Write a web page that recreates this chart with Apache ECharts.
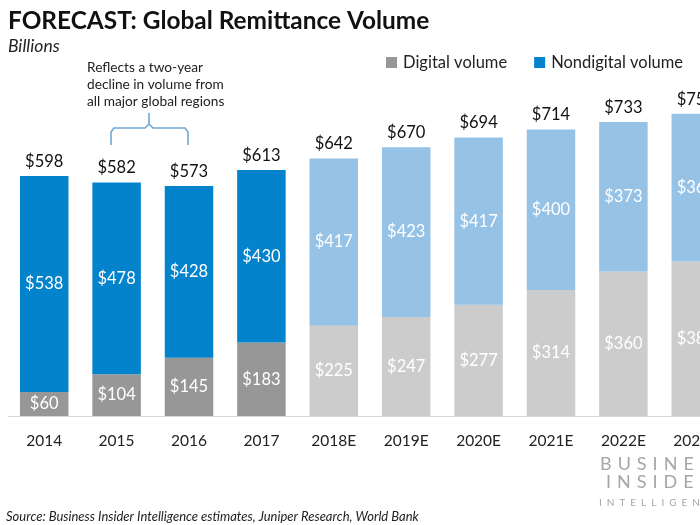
<!DOCTYPE html>
<html>
<head>
<meta charset="utf-8">
<script src="https://cdn.jsdelivr.net/npm/echarts@6/dist/echarts.min.js"></script>
<style>
html,body{margin:0;padding:0;width:700px;height:525px;overflow:hidden;background:#fff;}
#chart{width:760px;height:525px;}
</style>
</head>
<body>
<div id="chart"></div>
<script>
const categories = ['2014','2015','2016','2017','2018E','2019E','2020E','2021E','2022E','2023E'];
const digital    = [60, 104, 145, 183, 225, 247, 277, 314, 360, 385];
const nondigital = [538, 478, 428, 430, 417, 423, 417, 400, 373, 368];
const totals     = [598, 582, 573, 613, 642, 670, 694, 714, 733, 753];
const forecastStart = 4;

const FONT = 'Lato, "Open Sans", sans-serif';
const digitalColors = categories.map((c, i) => i < forecastStart ? '#979797' : '#cccccc');
const nondigitalColors = categories.map((c, i) => i < forecastStart ? '#0283cc' : '#96c2e6');
const spaced = (s, sep) => s.split('').join(sep);

const chart = echarts.init(document.getElementById('chart'), null, {renderer: 'canvas'});
chart.setOption({
  animation: false,
  textStyle: {fontFamily: FONT},
  title: [
    {text: 'FORECAST: Global Remittance Volume', left: 8, top: 9, padding: 0,
     textStyle: {fontFamily: FONT, fontSize: 24.4, fontWeight: 'bold', color: '#111'}},
    {text: 'Billions', left: 8, top: 37, padding: 0,
     textStyle: {fontFamily: FONT, fontSize: 17.5, fontStyle: 'italic', fontWeight: 'normal', color: '#222'}},
    {text: 'Source: Business Insider Intelligence estimates, Juniper Research, World Bank', left: 6, top: 510, padding: 0,
     textStyle: {fontFamily: FONT, fontSize: 13, fontStyle: 'italic', fontWeight: 'normal', color: '#222'}}
  ],
  legend: {
    left: 381, top: 49, itemWidth: 11, itemHeight: 11, itemGap: 27,
    icon: 'rect',
    textStyle: {fontFamily: FONT, fontSize: 16.5, color: '#222', padding: [0, 0, 0, 1]},
    data: [
      {name: 'Digital volume', itemStyle: {color: '#979797'}},
      {name: 'Nondigital volume', itemStyle: {color: '#0283cc'}}
    ]
  },
  grid: {left: 8, width: 724, top: 95, bottom: 109, containLabel: false},
  xAxis: {
    type: 'category', data: categories,
    axisLine: {show: true, lineStyle: {color: '#d9d9d9', width: 1}},
    axisTick: {show: false},
    axisLabel: {fontFamily: FONT, fontSize: 15.5, color: '#222', margin: 17}
  },
  yAxis: {type: 'value', min: 0, max: 800, show: false, splitLine: {show: false}},
  series: [
    {
      name: 'Digital volume', type: 'bar', stack: 'total', barWidth: '67%',
      data: digital.map((v, i) => ({value: v, itemStyle: {color: digitalColors[i]}})),
      label: {show: true, position: 'inside', formatter: p => '$' + p.value,
              fontFamily: FONT, fontSize: 16.5, color: '#fff'}
    },
    {
      name: 'Nondigital volume', type: 'bar', stack: 'total', barWidth: '67%',
      data: nondigital.map((v, i) => ({value: v, itemStyle: {color: nondigitalColors[i]}})),
      label: {show: true, position: 'inside', formatter: p => '$' + p.value,
              fontFamily: FONT, fontSize: 16.5, color: '#fff'}
    },
    {
      name: 'Total', type: 'bar', stack: 'total', barWidth: '67%',
      data: totals.map(() => 0), itemStyle: {color: 'transparent'},
      label: {show: true, position: 'top', distance: 6,
              formatter: p => '$' + totals[p.dataIndex],
              fontFamily: FONT, fontSize: 16.5, color: '#111'},
      tooltip: {show: false}
    }
  ],
  graphic: [
    {type: 'text', left: 87, top: 59,
     style: {text: 'Reflects a two-year\ndecline in volume from\nall major global regions',
             font: '13.7px ' + FONT, fill: '#222', lineHeight: 17}},
    {type: 'polyline', shape: {points: [[111,145],[111,132],[114,128],[145,128],[149,124],[149,113],[149,124],[153,128],[185,128],[188,132],[188,145]]},
     style: {stroke: '#6fa8d6', lineWidth: 1.6, fill: null}},
    {type: 'text', left: 600, top: 455,
     style: {text: spaced('BUSINESS', '\u2004'), font: '18px ' + FONT, fill: '#a6a6a6'}},
    {type: 'text', left: 606, top: 473,
     style: {text: spaced('INSIDER', '\u2004'), font: '18px ' + FONT, fill: '#a6a6a6'}},
    {type: 'text', left: 599, top: 498,
     style: {text: spaced('INTELLIGENCE', '\u2002'), font: '10px ' + FONT, fill: '#a6a6a6'}}
  ]
});
</script>
</body>
</html>
